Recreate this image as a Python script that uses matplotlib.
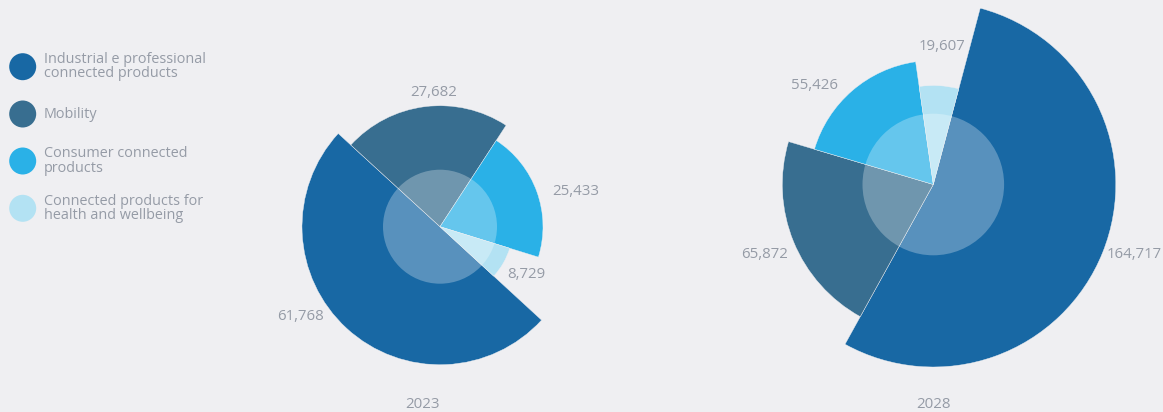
import matplotlib.pyplot as plt
from matplotlib.patches import Wedge, Circle

plt.rcParams['font.family'] = ['Open Sans', 'DejaVu Sans']

# data
categories = ['Industrial e professional\nconnected products', 'Mobility',
              'Consumer connected\nproducts', 'Connected products for\nhealth and wellbeing']
years = ['2023', '2028']
values_2023 = [61768, 27682, 25433, 8729]
values_2028 = [164717, 65872, 55426, 19607]

# styling / layout (pixel units, y measured from the top)
colors = ['#1868a4', '#386e90', '#2ab1e7', '#b3e2f3']
bg = '#efeff2'
txt = '#959ba6'
W, H = 1163, 412

charts = [
    dict(values=values_2023, center=(440, 226.7), start=-42.6, inner=57,
         radii=[138, 121, 103, 73],
         label_off=[(-139.5, 90), (-6.7, -134), (136, -35), (86.7, 47.6)],
         year_xy=(423, 405)),
    dict(values=values_2028, center=(933.3, 184.5), start=75.1, inner=70.8,
         radii=[182.5, 151, 124, 99],
         label_off=[(201, 70.5), (-168.6, 70.5), (-118.3, -98.8), (8.4, -137.8)],
         year_xy=(933.7, 405)),
]

fig = plt.figure(figsize=(W / 100, H / 100), dpi=100, facecolor=bg)
ax = fig.add_axes([0, 0, 1, 1])
ax.set_xlim(0, W)
ax.set_ylim(0, H)
ax.axis('off')
ax.set_facecolor(bg)


def fy(y):
    return H - y


for year, ch in zip(years, charts):
    cx, cy = ch['center'][0], fy(ch['center'][1])
    total = sum(ch['values'])
    theta = ch['start']
    for i, v in enumerate(ch['values']):
        span = v / total * 360
        w = Wedge((cx, cy), ch['radii'][i], theta - span, theta,
                  facecolor=colors[i], edgecolor=bg, linewidth=0.3, zorder=2)
        ax.add_patch(w)
        theta -= span
        dx, dy = ch['label_off'][i]
        ax.text(ch['center'][0] + dx, fy(ch['center'][1] + dy), f'{v:,}',
                ha='center', va='center', fontsize=10.8, color=txt, zorder=5)
    ax.add_patch(Circle((cx, cy), ch['inner'], facecolor='white', alpha=0.28,
                        edgecolor='none', zorder=3))
    ax.text(ch['year_xy'][0], fy(ch['year_xy'][1]), year, ha='center', va='center',
            fontsize=10.8, color=txt)

# legend
leg_y = [66.7, 114, 161, 208.3]
for i, lab in enumerate(categories):
    ax.add_patch(Circle((22.7, fy(leg_y[i])), 13.5, facecolor=colors[i],
                        edgecolor='none', zorder=2))
    ax.text(43.5, fy(leg_y[i]), lab, ha='left', va='center', fontsize=10.4,
            color=txt, linespacing=0.95)

fig.savefig('out.png', dpi=100, facecolor=bg)
